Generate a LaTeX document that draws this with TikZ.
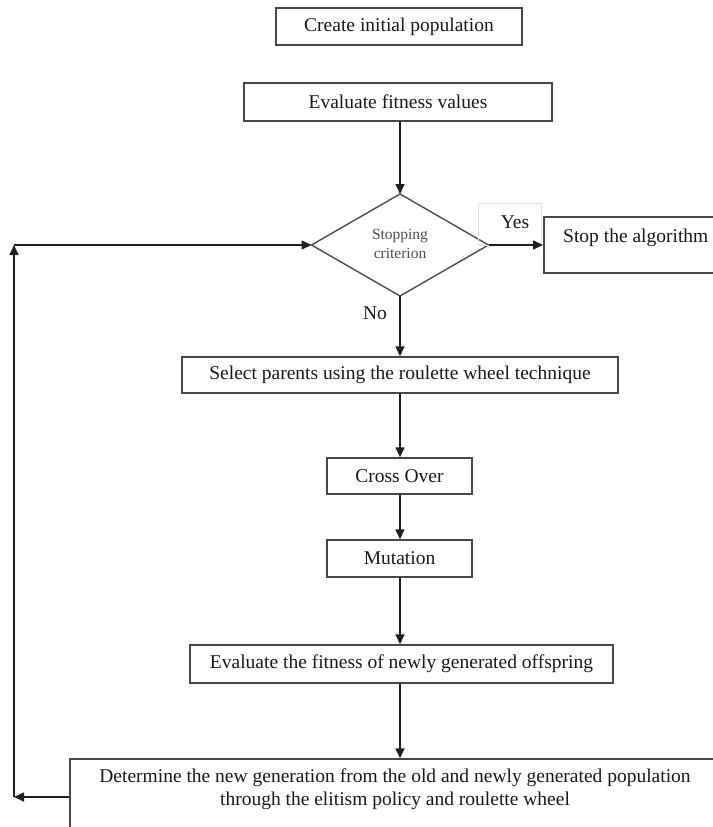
\documentclass[tikz,border=0pt]{standalone}
\usepackage{fontspec}
\setmainfont{Liberation Serif}
\usetikzlibrary{arrows.meta}
\tikzset{
  box/.style={draw=black!72, line width=1.5pt, fill=white, inner sep=0pt, font=\fontsize{19.5}{23.5}\selectfont, text=black!90},
  txt/.style={inner sep=0pt, font=\fontsize{19.5}{23.5}\selectfont, text=black!90, align=center},
  conn/.style={draw=black!88, line width=1.6pt, -{Triangle[length=10pt,width=9pt]}},
}
\begin{document}
\begin{tikzpicture}[x=1pt,y=-1pt]
\useasboundingbox (0,0) rectangle (712,827);
% boxes
\node[box, minimum width=246pt, minimum height=37pt] (create) at (399,26.5) {Create initial population};
\node[box, minimum width=308pt, minimum height=38pt] (evalfit) at (398,102) {Evaluate fitness values};
\path[draw=black!70, line width=1.4pt] (400,194) coordinate (dtop) -- (488.5,245) coordinate (dright) -- (400,296) coordinate (dbot) -- (311.5,245) coordinate (dleft) -- cycle;
\node[inner sep=0pt, align=center, font=\fontsize{15.5}{19}\selectfont, text=black!70] (crit) at (400,244) {Stopping\\criterion};
\node[draw=black!12, line width=0.8pt, minimum width=63pt, minimum height=42pt, inner sep=0pt] (yesbox) at (509.5,224) {};
\node[txt] (yes) at (515,222) {Yes};
\node[box, anchor=west, minimum width=230pt, minimum height=56pt] (stop) at (543,245) {};
\node[txt, anchor=west] (stoptxt) at (563,238) {Stop the algorithm};
\node[txt] (no) at (375,313) {No};
\node[box, minimum width=436pt, minimum height=36pt] (select) at (400,375) {Select parents using the roulette wheel technique};
\node[box, minimum width=145pt, minimum height=36pt] (cross) at (399.5,476) {Cross Over};
\node[box, minimum width=145pt, minimum height=37pt] (mut) at (399.5,558.5) {Mutation};
\node[box, minimum width=423pt, minimum height=38pt] (evaloff) at (401.5,664) {Evaluate the fitness of newly generated offspring};
\node[box, anchor=west, minimum width=700pt, minimum height=76pt] (det) at (69,797) {};
\node[txt] (dettxt) at (395,789) {Determine the new generation from the old and newly generated population\\through the elitism policy and roulette wheel};
\coordinate (c1) at (14,797);
\coordinate (c2) at (14,245);
% connectors
\draw[conn] (evalfit.south -| dtop) -- (dtop);
\draw[conn] (dright) -- (stop.west);
\draw[conn] (dbot) -- (select.north -| dbot);
\draw[conn] (select.south -| dbot) -- (cross.north -| dbot);
\draw[conn] (cross.south -| dbot) -- (mut.north -| dbot);
\draw[conn] (mut.south -| dbot) -- (evaloff.north -| dbot);
\draw[conn] (evaloff.south -| dbot) -- (det.north -| dbot);
\draw[conn] (det.west) -- (c1);
\draw[conn] (c1) -- (c2);
\draw[conn] (c2) -- (dleft);
\end{tikzpicture}
\end{document}
